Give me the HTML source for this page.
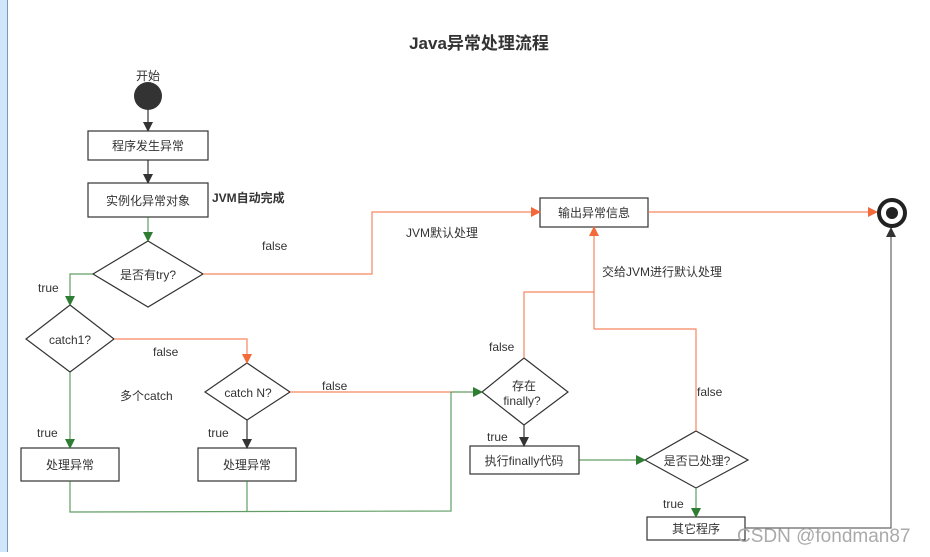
<!DOCTYPE html>
<html><head><meta charset="utf-8"><style>
body{margin:0;background:#fff;}
svg text{font-family:"Liberation Sans","Noto Sans CJK SC",sans-serif;fill:#333;}
</style></head><body>
<svg width="930" height="552" viewBox="0 0 930 552" xmlns="http://www.w3.org/2000/svg">
<defs>
<marker id="ag" markerWidth="10" markerHeight="10" refX="9" refY="5" orient="auto" markerUnits="userSpaceOnUse"><path d="M0,0 L10,5 L0,10 Z" fill="#2e7d32"/></marker>
<marker id="ao" markerWidth="10" markerHeight="10" refX="9" refY="5" orient="auto" markerUnits="userSpaceOnUse"><path d="M0,0 L10,5 L0,10 Z" fill="#f4693a"/></marker>
<marker id="ad" markerWidth="10" markerHeight="10" refX="9" refY="5" orient="auto" markerUnits="userSpaceOnUse"><path d="M0,0 L10,5 L0,10 Z" fill="#333"/></marker>
</defs>
<rect x="0" y="0" width="7" height="552" fill="#cfe6fb"/>
<line x1="7.5" y1="0" x2="7.5" y2="552" stroke="#7a9bb8" stroke-width="1"/>
<text x="479" y="49" text-anchor="middle" font-size="17" font-weight="bold">Java异常处理流程</text>
<text x="148" y="80" text-anchor="middle" font-size="12">开始</text>
<circle cx="148" cy="96" r="14" fill="#333"/>
<g stroke="#333" fill="none" stroke-width="1.2">
<line x1="148" y1="110" x2="148" y2="131" marker-end="url(#ad)"/>
<line x1="148" y1="160" x2="148" y2="183" marker-end="url(#ad)"/>
<rect x="88" y="131" width="120" height="29" fill="#fff"/>
<rect x="88" y="183" width="120" height="34" fill="#fff"/>
<polygon points="148,241 203,274 148,307 93,274" fill="#fff"/>
<polygon points="70,305 114,339 70,372 26,339" fill="#fff"/>
<polygon points="247,363 290,392 247,420 205,392" fill="#fff"/>
<rect x="21" y="448" width="98" height="33" fill="#fff"/>
<rect x="198" y="448" width="98" height="33" fill="#fff"/>
<rect x="540" y="198" width="108" height="29" fill="#fff"/>
<polygon points="524,358 568,392 524,425 482,392" fill="#fff"/>
<rect x="470" y="446" width="109" height="28" fill="#fff"/>
<polygon points="696,431 748,460 696,488 645,460" fill="#fff"/>
<rect x="647" y="517" width="98" height="23" fill="#fff"/>
<line x1="247" y1="420" x2="247" y2="448" marker-end="url(#ad)"/>
<line x1="524" y1="425" x2="524" y2="446" marker-end="url(#ad)"/>
</g>
<g stroke="#2e7d32" fill="none" stroke-width="1.2" stroke-opacity="0.75">
<line x1="148" y1="217" x2="148" y2="241" marker-end="url(#ag)"/>
<polyline points="93,274 70,274 70,305" marker-end="url(#ag)"/>
<line x1="70" y1="372" x2="70" y2="448" marker-end="url(#ag)"/>
<polyline points="70,481 70,512 451,511 451,392"/>
<line x1="247" y1="481" x2="247" y2="511"/>
<line x1="451" y1="392" x2="482" y2="392" marker-end="url(#ag)"/>
<line x1="579" y1="460" x2="645" y2="460" marker-end="url(#ag)"/>
<line x1="696" y1="488" x2="696" y2="517" marker-end="url(#ag)"/>
</g>
<g stroke="#f4693a" fill="none" stroke-width="1.2" stroke-opacity="0.8">
<polyline points="203,274 372,274 372,212 540,212" marker-end="url(#ao)"/>
<polyline points="114,339 247,339 247,363" marker-end="url(#ao)"/>
<line x1="290" y1="392" x2="451" y2="392"/>
<polyline points="524,358 524,292 594,292"/>
<line x1="594" y1="329" x2="594" y2="227" marker-end="url(#ao)"/>
<polyline points="696,431 696,329 594,329"/>
<line x1="648" y1="212" x2="877" y2="212" marker-end="url(#ao)"/>
</g>
<polyline points="745,528 891,528 891,228" stroke="#666" fill="none" stroke-width="1.2" marker-end="url(#ad)"/>
<circle cx="892" cy="213" r="13" fill="#fff" stroke="#222" stroke-width="4"/>
<circle cx="892" cy="213" r="6" fill="#222"/>
<g font-size="12">
<text x="148" y="150" text-anchor="middle">程序发生异常</text>
<text x="148" y="205" text-anchor="middle">实例化异常对象</text>
<text x="212" y="202" font-weight="bold">JVM自动完成</text>
<text x="148" y="279" text-anchor="middle">是否有try?</text>
<text x="262" y="250">false</text>
<text x="406" y="237">JVM默认处理</text>
<text x="38" y="292">true</text>
<text x="70" y="344" text-anchor="middle">catch1?</text>
<text x="153" y="356">false</text>
<text x="120" y="400">多个catch</text>
<text x="248" y="397" text-anchor="middle">catch N?</text>
<text x="322" y="390">false</text>
<text x="37" y="437">true</text>
<text x="208" y="437">true</text>
<text x="70" y="469" text-anchor="middle">处理异常</text>
<text x="247" y="469" text-anchor="middle">处理异常</text>
<text x="594" y="217" text-anchor="middle">输出异常信息</text>
<text x="602" y="276">交给JVM进行默认处理</text>
<text x="489" y="351">false</text>
<text x="524" y="390" text-anchor="middle">存在</text>
<text x="522" y="405" text-anchor="middle">finally?</text>
<text x="487" y="441">true</text>
<text x="524" y="465" text-anchor="middle">执行finally代码</text>
<text x="697" y="396">false</text>
<text x="697" y="465" text-anchor="middle">是否已处理?</text>
<text x="663" y="508">true</text>
<text x="696" y="533" text-anchor="middle">其它程序</text>
</g>
<text x="737" y="542" font-size="19" style="fill:#aaa">CSDN @fondman87</text>
</svg>
</body></html>
